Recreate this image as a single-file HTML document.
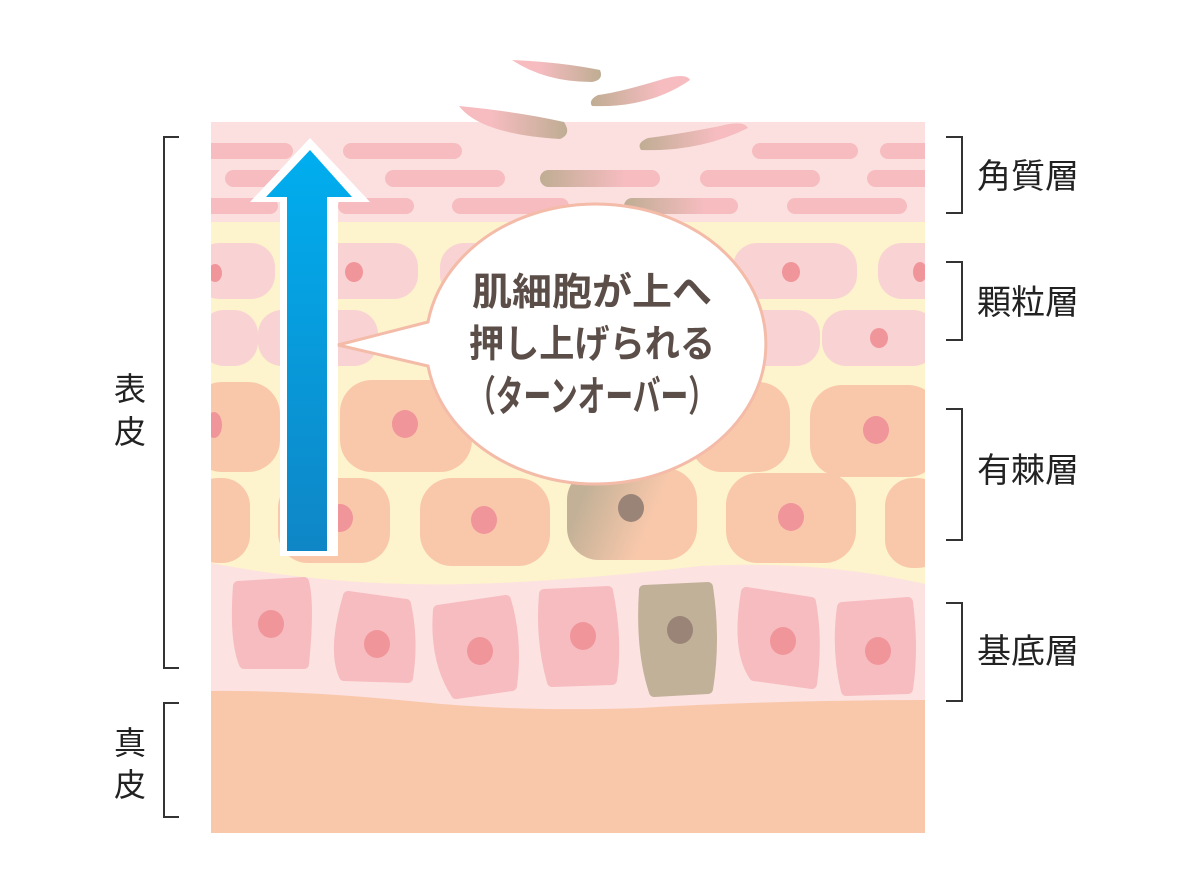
<!DOCTYPE html>
<html><head><meta charset="utf-8"><style>
html,body{margin:0;padding:0;background:#fff;}
svg{display:block;}
text{font-family:"Liberation Sans","Noto Sans CJK JP",sans-serif;}
</style></head><body>
<svg width="1200" height="893" viewBox="0 0 1200 893" xmlns="http://www.w3.org/2000/svg">
<defs>
<linearGradient id="ar" x1="0" y1="0" x2="0" y2="1"><stop offset="0" stop-color="#00aeef"/><stop offset="1" stop-color="#0f86c6"/></linearGradient>
<linearGradient id="pb" x1="0" y1="0" x2="1" y2="0"><stop offset="0.3" stop-color="#f6bcc0"/><stop offset="1" stop-color="#bfad93"/></linearGradient>
<linearGradient id="bp" x1="0" y1="0" x2="1" y2="0"><stop offset="0" stop-color="#bfad93"/><stop offset="0.7" stop-color="#f6bcc0"/></linearGradient>
<linearGradient id="bc" x1="0" y1="0" x2="1" y2="0.3"><stop offset="0.2" stop-color="#c3b197"/><stop offset="0.75" stop-color="#f9c8ab"/></linearGradient>
<clipPath id="pc"><rect x="211" y="122" width="714" height="711"/></clipPath>
</defs>

<g clip-path="url(#pc)">
<rect x="211" y="122" width="714" height="711" fill="#fce0e0"/>
<rect x="211" y="222" width="714" height="400" fill="#fdf3cc"/>
<g fill="#f7bcc0">
<rect x="200" y="143" width="93" height="16" rx="8"/>
<rect x="343" y="143" width="119" height="16" rx="8"/>
<rect x="752" y="143" width="106" height="16" rx="8"/>
<rect x="880" y="143" width="60" height="16" rx="8"/>
<rect x="225" y="170" width="80" height="17" rx="8.5"/>
<rect x="385" y="170" width="120" height="17" rx="8.5"/>
<rect x="700" y="170" width="120" height="17" rx="8.5"/>
<rect x="867" y="170" width="70" height="17" rx="8.5"/>
<rect x="200" y="198" width="78" height="16" rx="8"/>
<rect x="338" y="198" width="76" height="16" rx="8"/>
<rect x="452" y="198" width="117" height="16" rx="8"/>
<rect x="787" y="198" width="120" height="16" rx="8"/>
</g>
<rect x="540" y="170" width="120" height="17" rx="8.5" fill="url(#bp)"/>
<rect x="624" y="198" width="114" height="16" rx="8" fill="url(#bp)"/>
<g fill="#f9d3d3">
<rect x="195" y="243" width="80" height="56" rx="24"/>
<rect x="292" y="243" width="126" height="56" rx="24"/>
<rect x="440" y="243" width="120" height="56" rx="24"/>
<rect x="733" y="243" width="124" height="56" rx="24"/>
<rect x="878" y="243" width="70" height="56" rx="24"/>
<rect x="200" y="310" width="58" height="56" rx="24"/>
<rect x="258" y="310" width="120" height="56" rx="24"/>
<rect x="730" y="310" width="90" height="56" rx="24"/>
<rect x="822" y="310" width="115" height="56" rx="24"/>
</g>
<g fill="#f0959a">
<ellipse cx="215" cy="273" rx="7" ry="9"/><ellipse cx="354" cy="272" rx="9" ry="10"/>
<ellipse cx="791" cy="272" rx="9" ry="10"/><ellipse cx="920" cy="272" rx="7" ry="10"/>
<ellipse cx="879" cy="338" rx="9" ry="10"/>
</g>
<g fill="#f9c8ab">
<rect x="190" y="382" width="90" height="90" rx="32"/>
<rect x="340" y="380" width="132" height="92" rx="32"/>
<rect x="690" y="382" width="100" height="90" rx="32"/>
<rect x="810" y="385" width="130" height="92" rx="32"/>
<rect x="190" y="478" width="60" height="85" rx="28"/>
<rect x="278" y="478" width="112" height="85" rx="30"/>
<rect x="420" y="478" width="130" height="88" rx="32"/>
<rect x="726" y="473" width="130" height="90" rx="32"/>
<rect x="885" y="478" width="60" height="90" rx="28"/>
</g>
<rect x="567" y="468" width="130" height="92" rx="32" fill="url(#bc)"/>
<g fill="#f0959a">
<ellipse cx="214" cy="425" rx="8" ry="13"/><ellipse cx="405" cy="424" rx="13" ry="14"/>
<ellipse cx="876" cy="430" rx="13" ry="14"/><ellipse cx="340" cy="518" rx="13" ry="14"/>
<ellipse cx="484" cy="520" rx="13" ry="14"/><ellipse cx="791" cy="517" rx="13" ry="14"/>
</g>
<ellipse cx="631" cy="508" rx="13" ry="14" fill="#9a8478"/>
<path d="M211 563 Q350 590 500 583 Q600 578 700 566 Q820 560 925 584 L925 850 L211 850 Z" fill="#fde2e2"/>
<g fill="#f7bcc0" stroke="#f7bcc0" stroke-width="10" stroke-linejoin="round">
<path d="M238 586 L304 582 Q310 604 304 664 L244 664 Q234 640 238 586 Z"/>
<path d="M348 596 L406 604 Q414 640 408 678 L344 676 Q332 650 348 596 Z"/>
<path d="M438 610 L506 600 Q518 640 512 686 L456 694 Q434 660 438 610 Z"/>
<path d="M544 594 L608 591 Q618 640 612 680 L552 682 Q540 640 544 594 Z"/>
<path d="M746 592 L811 602 Q818 640 812 684 L754 676 Q736 650 746 592 Z"/>
<path d="M842 607 L908 602 Q914 650 908 689 L846 691 Q836 650 842 607 Z"/>
</g>
<path d="M644 590 L708 587 Q716 640 708 689 L654 692 Q640 650 644 590 Z" fill="#c2b199" stroke="#c2b199" stroke-width="10" stroke-linejoin="round"/>
<g fill="#f0959a">
<ellipse cx="271" cy="624" rx="13" ry="14"/><ellipse cx="377" cy="644" rx="13" ry="14"/>
<ellipse cx="480" cy="651" rx="13" ry="14"/><ellipse cx="583" cy="636" rx="13" ry="14"/>
<ellipse cx="783" cy="641" rx="13" ry="14"/><ellipse cx="878" cy="651" rx="13" ry="14"/>
</g>
<ellipse cx="680" cy="630" rx="13" ry="14" fill="#9a8478"/>
<path d="M211 691 Q300 690 420 702 Q520 712 640 708 Q780 700 925 700 L925 840 L211 840 Z" fill="#f9c8ab"/>
</g>

<!-- flakes -->
<path d="M512 60 Q545 82 592 82 Q604 80 600 70 Q560 62 512 60 Z" fill="url(#pb)"/>
<path d="M592 106 Q650 108 690 80 Q686 72 660 80 Q620 92 598 95 Q588 100 592 106 Z" fill="url(#bp)"/>
<path d="M459 106 Q480 134 560 139 Q572 134 564 122 Q520 112 459 106 Z" fill="url(#pb)"/>
<path d="M641 150 Q700 152 748 128 Q744 120 720 126 Q680 134 648 138 Q636 143 641 150 Z" fill="url(#bp)"/>

<!-- arrow -->
<path d="M310 138 L370 202 L338 202 L338 556 L280 556 L280 202 L250 202 Z" fill="#fff"/>
<path d="M310 150 L352 197 L327 197 L327 551 L287 551 L287 197 L266 197 Z" fill="url(#ar)"/>

<!-- bubble -->
<path d="M428 322 A170 140 0 1 1 428 366 L338 345 Z" fill="#fff" stroke="#f3bba8" stroke-width="3" stroke-linejoin="miter"/>
<g fill="#5b4d47" font-weight="bold" text-anchor="middle">
<text x="592" y="305" font-size="38" textLength="240" lengthAdjust="spacingAndGlyphs">肌細胞が上へ</text>
<text x="592" y="357" font-size="38" textLength="246" lengthAdjust="spacingAndGlyphs">押し上げられる</text>
<text x="592" y="411" font-size="42" textLength="248" lengthAdjust="spacingAndGlyphs">（ターンオーバー）</text>
</g>

<g fill="none" stroke="#333" stroke-width="2">
<path d="M946 137 H962 V213 H946"/>
<path d="M946 262 H962 V340 H946"/>
<path d="M946 409 H962 V540 H946"/>
<path d="M946 603 H962 V701 H946"/>
<path d="M179 137 H164 V668 H179"/>
<path d="M179 703 H164 V817 H179"/>
</g>
<g fill="#222" font-size="34">
<text x="977" y="188">角質層</text>
<text x="977" y="314">顆粒層</text>
<text x="977" y="482">有棘層</text>
<text x="977" y="663">基底層</text>
</g>
<g fill="#222" font-size="32">
<text x="114" y="400">表</text>
<text x="114" y="443">皮</text>
<text x="114" y="754">真</text>
<text x="114" y="796">皮</text>
</g>
</svg>
</body></html>
